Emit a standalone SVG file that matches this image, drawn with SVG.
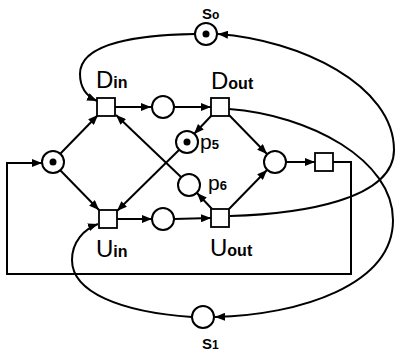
<svg xmlns="http://www.w3.org/2000/svg" width="395" height="352" viewBox="0 0 395 352">
<style>
.p{fill:#fff;stroke:#000;stroke-width:2}
.t{fill:#fff;stroke:#000;stroke-width:1.8}
.tok{fill:#000}
.e{fill:none;stroke:#000;stroke-width:2}
.a{marker-end:url(#ah)}
text{font-family:"Liberation Sans",Arial,sans-serif;fill:#000}
.big{font-size:24px}
.sm{font-size:16px;font-weight:bold}
</style>
<defs>
<marker id="ah" viewBox="0 0 10 8" refX="10" refY="4" markerWidth="10" markerHeight="8" markerUnits="userSpaceOnUse" orient="auto">
<path d="M0,0 L10,4 L0,8 Z" fill="#000"/>
</marker>
</defs>
<g id="connectors">
<line class="e a" x1="60" y1="154" x2="98" y2="115"/>
<line class="e a" x1="60" y1="170" x2="99" y2="210"/>
<line class="e a" x1="115" y1="107" x2="151" y2="107"/>
<line class="e a" x1="174" y1="107" x2="211" y2="107"/>
<line class="e a" x1="212" y1="115" x2="194" y2="134"/>
<line class="e a" x1="179" y1="150" x2="117" y2="211"/>
<line class="e a" x1="181" y1="177" x2="116" y2="115"/>
<line class="e a" x1="212" y1="209" x2="197" y2="193"/>
<line class="e a" x1="229" y1="115" x2="267" y2="154"/>
<line class="e a" x1="229" y1="209" x2="267" y2="170"/>
<line class="e a" x1="286" y1="162" x2="315" y2="162"/>
<line class="e a" x1="117" y1="219" x2="152" y2="219"/>
<line class="e a" x1="174" y1="219" x2="211" y2="218"/>
<path class="e a" d="M333,162 H351 V274 H7 V163 H42"/>
<path class="e a" d="M195,34 C140,35 80,42 80,74 C80,88 86,96 97,101"/>
<path class="e a" d="M192,317 C120,312 72,292 72,260 C72,242 84,229 98,224"/>
<path class="e a" d="M229,109 C310,115 393,160 393,220 C393,285 300,315 215,317"/>
<path class="e a" d="M230,216 C300,214 394,200 394,150 C394,85 300,40 218,34"/>
</g>
<g id="s0"><circle class="p" cx="206" cy="34" r="11"/><circle class="tok" cx="206" cy="34" r="3.5"/><text x="202" y="19" font-size="15" font-weight="bold">S<tspan font-size="12">o</tspan></text></g>
<g id="Din"><rect class="t" x="97" y="98" width="18" height="18"/><text x="96" y="88"><tspan class="big">D</tspan><tspan class="sm">in</tspan></text></g>
<g id="pDin"><circle class="p" cx="163" cy="107" r="11"/></g>
<g id="Dout"><rect class="t" x="211" y="98" width="18" height="18"/><text x="211" y="89"><tspan class="big">D</tspan><tspan class="sm">out</tspan></text></g>
<g id="pstart"><circle class="p" cx="53" cy="162" r="11"/><circle class="tok" cx="53" cy="162" r="3.5"/></g>
<g id="p5"><circle class="p" cx="187" cy="142" r="11"/><circle class="tok" cx="187" cy="142" r="3.5"/><text x="200" y="149"><tspan font-size="21">p</tspan><tspan font-size="13" font-weight="bold">5</tspan></text></g>
<g id="p6"><circle class="p" cx="189" cy="185" r="11"/><text x="208" y="190"><tspan font-size="21">p</tspan><tspan font-size="13" font-weight="bold">6</tspan></text></g>
<g id="pjoin"><circle class="p" cx="275" cy="162" r="11"/></g>
<g id="tback"><rect class="t" x="315" y="153" width="18" height="18"/></g>
<g id="Uin"><rect class="t" x="99" y="210" width="18" height="18"/><text x="96" y="257"><tspan class="big">U</tspan><tspan class="sm">in</tspan></text></g>
<g id="pUin"><circle class="p" cx="163" cy="219" r="11"/></g>
<g id="Uout"><rect class="t" x="211" y="209" width="18" height="18"/><text x="210" y="256"><tspan class="big">U</tspan><tspan class="sm">out</tspan></text></g>
<g id="s1"><circle class="p" cx="203" cy="317" r="11"/><text x="202" y="349" font-size="15" font-weight="bold">S<tspan font-size="12">1</tspan></text></g>
</svg>
